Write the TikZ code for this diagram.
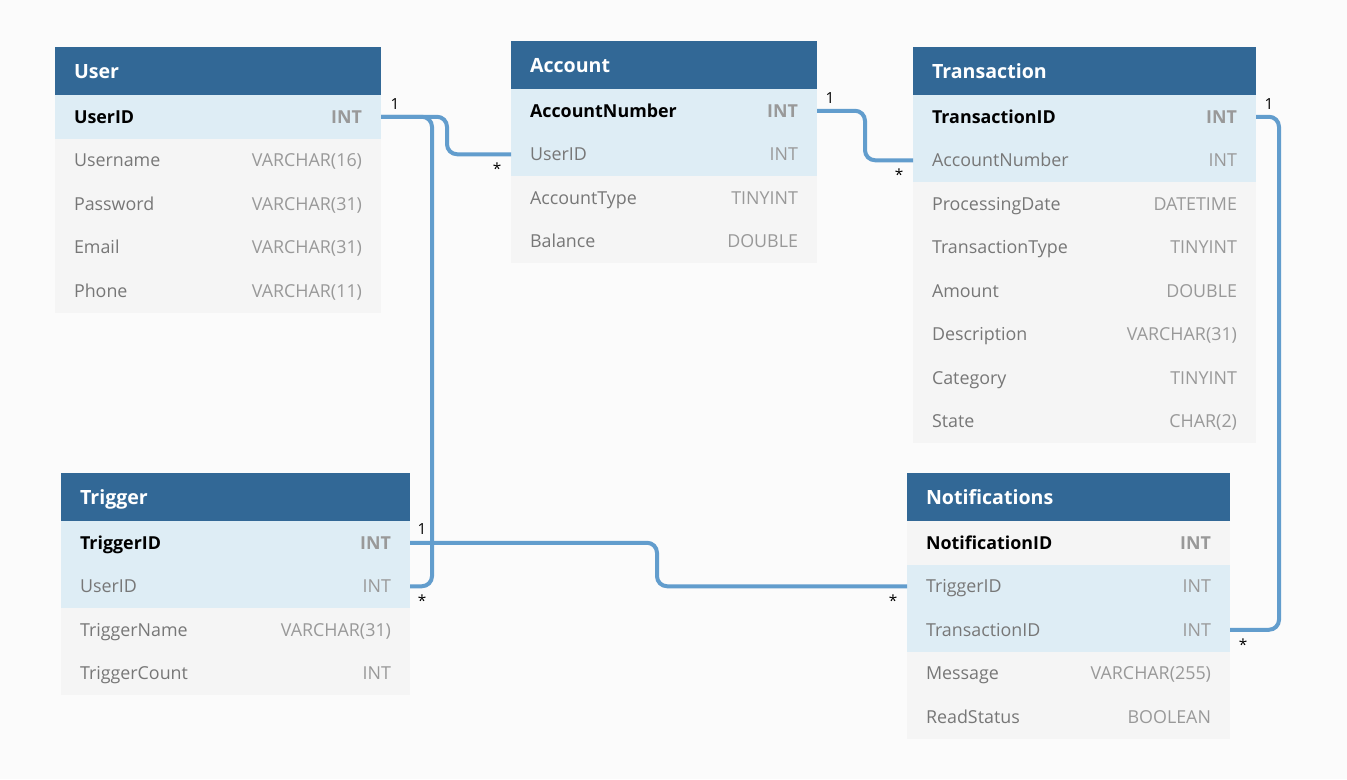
\documentclass[tikz,border=0pt]{standalone}
\usepackage{fontspec}
\setmainfont{Open Sans}
\definecolor{bgc}{HTML}{FBFBFB}
\definecolor{hdrc}{HTML}{326896}
\definecolor{lblue}{HTML}{DEEDF5}
\definecolor{grayrow}{HTML}{F5F5F5}
\definecolor{namec}{HTML}{777777}
\definecolor{typec}{HTML}{999999}
\definecolor{linec}{HTML}{629DCD}
\newcommand\erpk[2]{\textbf{#1}\hfill{\color{typec}\textbf{#2}}}
\newcommand\erfd[2]{{\color{namec}#1}\hfill{\color{typec}#2}}
\tikzset{
  erbase/.style={anchor=north west, inner xsep=14.25pt, inner ysep=0pt, outer sep=0pt, align=left},
  hdr/.style={erbase, fill=hdrc, text=white, minimum height=36pt, text height=10.8pt, text depth=0pt,
     font=\fontsize{14.7}{17}\selectfont\bfseries},
  erow/.style={erbase, minimum height=32.625pt, text height=9.9pt, text depth=0.4pt,
     font=\fontsize{13.4}{16}\selectfont},
  rb/.style={erow, fill=lblue},
  rg/.style={erow, fill=grayrow},
  conn/.style={draw=linec, line width=3pt, rounded corners=7.5pt},
  card/.style={font=\fontsize{11.5}{13}\selectfont, inner sep=0pt, text=black}
}
\begin{document}
\begin{tikzpicture}[x=0.75pt,y=-0.75pt]
\fill[bgc] (0,0) rectangle (1347,779);
% ---------- User ----------
\node[hdr, text width=216pt] (user) at (55,47) {User};
\node[rb, text width=216pt] (uUserID) at (user.south west) {\erpk{UserID}{INT}};
\node[rg, text width=216pt] (uUsername) at (uUserID.south west) {\erfd{Username}{VARCHAR(16)}};
\node[rg, text width=216pt] (uPassword) at (uUsername.south west) {\erfd{Password}{VARCHAR(31)}};
\node[rg, text width=216pt] (uEmail) at (uPassword.south west) {\erfd{Email}{VARCHAR(31)}};
\node[rg, text width=216pt] (uPhone) at (uEmail.south west) {\erfd{Phone}{VARCHAR(11)}};
% ---------- Account ----------
\node[hdr, text width=201pt] (account) at (511,41) {Account};
\node[rb, text width=201pt] (aAccountNumber) at (account.south west) {\erpk{AccountNumber}{INT}};
\node[rb, text width=201pt] (aUserID) at (aAccountNumber.south west) {\erfd{UserID}{INT}};
\node[rg, text width=201pt] (aAccountType) at (aUserID.south west) {\erfd{AccountType}{TINYINT}};
\node[rg, text width=201pt] (aBalance) at (aAccountType.south west) {\erfd{Balance}{DOUBLE}};
% ---------- Transaction ----------
\node[hdr, text width=228.75pt] (transaction) at (913,47) {Transaction};
\node[rb, text width=228.75pt] (trTransactionID) at (transaction.south west) {\erpk{TransactionID}{INT}};
\node[rb, text width=228.75pt] (trAccountNumber) at (trTransactionID.south west) {\erfd{AccountNumber}{INT}};
\node[rg, text width=228.75pt] (trProcessingDate) at (trAccountNumber.south west) {\erfd{ProcessingDate}{DATETIME}};
\node[rg, text width=228.75pt] (trTransactionType) at (trProcessingDate.south west) {\erfd{TransactionType}{TINYINT}};
\node[rg, text width=228.75pt] (trAmount) at (trTransactionType.south west) {\erfd{Amount}{DOUBLE}};
\node[rg, text width=228.75pt] (trDescription) at (trAmount.south west) {\erfd{Description}{VARCHAR(31)}};
\node[rg, text width=228.75pt] (trCategory) at (trDescription.south west) {\erfd{Category}{TINYINT}};
\node[rg, text width=228.75pt] (trState) at (trCategory.south west) {\erfd{State}{CHAR(2)}};
% ---------- Trigger ----------
\node[hdr, text width=233.25pt] (trigger) at (61,473) {Trigger};
\node[rb, text width=233.25pt] (tTriggerID) at (trigger.south west) {\erpk{TriggerID}{INT}};
\node[rb, text width=233.25pt] (tUserID) at (tTriggerID.south west) {\erfd{UserID}{INT}};
\node[rg, text width=233.25pt] (tTriggerName) at (tUserID.south west) {\erfd{TriggerName}{VARCHAR(31)}};
\node[rg, text width=233.25pt] (tTriggerCount) at (tTriggerName.south west) {\erfd{TriggerCount}{INT}};
% ---------- Notifications ----------
\node[hdr, text width=213.75pt] (notifications) at (907,473) {Notifications};
\node[rg, text width=213.75pt] (nNotificationID) at (notifications.south west) {\erpk{NotificationID}{INT}};
\node[rb, text width=213.75pt] (nTriggerID) at (nNotificationID.south west) {\erfd{TriggerID}{INT}};
\node[rb, text width=213.75pt] (nTransactionID) at (nTriggerID.south west) {\erfd{TransactionID}{INT}};
\node[rg, text width=213.75pt] (nMessage) at (nTransactionID.south west) {\erfd{Message}{VARCHAR(255)}};
\node[rg, text width=213.75pt] (nReadStatus) at (nMessage.south west) {\erfd{ReadStatus}{BOOLEAN}};
% ---------- bends ----------
\coordinate (j1) at (447,0);
\coordinate (j2) at (432,0);
\coordinate (j3) at (865,0);
\coordinate (j4) at (1279,0);
\coordinate (j5) at (657,0);
% ---------- connectors ----------
\draw[conn] (tTriggerID.east) -| (j5 |- nTriggerID.west) -- (nTriggerID.west);
\draw[conn] (uUserID.east) -| (j1 |- aUserID.west) -- (aUserID.west);
\draw[conn] (tUserID.east) -| (j2 |- uUserID.east) -- (uUserID.east);
\draw[conn] (aAccountNumber.east) -| (j3 |- trAccountNumber.west) -- (trAccountNumber.west);
\draw[conn] (trTransactionID.east) -| (j4 |- nTransactionID.east) -- (nTransactionID.east);
% ---------- cardinalities ----------
\node[card] (c1) at ([xshift=10.5pt,yshift=9.75pt]uUserID.east) {1};
\node[card] (c2) at ([xshift=-10.5pt,yshift=-11pt]aUserID.west) {*};
\node[card] (c3) at ([xshift=9.75pt,yshift=9.75pt]aAccountNumber.east) {1};
\node[card] (c4) at ([xshift=-10.5pt,yshift=-11pt]trAccountNumber.west) {*};
\node[card] (c5) at ([xshift=9.75pt,yshift=9.75pt]trTransactionID.east) {1};
\node[card] (c6) at ([xshift=9.75pt,yshift=-11pt]nTransactionID.east) {*};
\node[card] (c7) at ([xshift=9pt,yshift=10.5pt]tTriggerID.east) {1};
\node[card] (c8) at ([xshift=9pt,yshift=-11pt]tUserID.east) {*};
\node[card] (c9) at ([xshift=-10.5pt,yshift=-11pt]nTriggerID.west) {*};
\end{tikzpicture}
\end{document}
